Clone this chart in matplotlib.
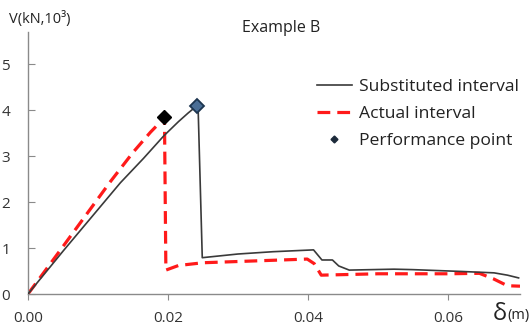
import matplotlib
matplotlib.use("Agg")
import matplotlib.pyplot as plt

# Substituted interval (solid dark line)
sub_x = [0.0, 0.0051, 0.0132, 0.0165, 0.0194, 0.0215, 0.0229, 0.0241, 0.0243,
         0.0249, 0.0300, 0.0350, 0.0408, 0.0420, 0.0435, 0.0444, 0.0459, 0.0523, 0.0550,
         0.0620, 0.0666, 0.0685, 0.0701]
sub_y = [0.0, 0.95, 2.42, 2.95, 3.44, 3.75, 3.94, 4.09, 4.09,
         0.79, 0.87, 0.92, 0.96, 0.74, 0.74, 0.61, 0.52, 0.54, 0.53,
         0.49, 0.46, 0.41, 0.35]

# Actual interval (red dashed)
act_x = [0.0, 0.0046, 0.0118, 0.0150, 0.0175, 0.0189, 0.0195, 0.0197, 0.0215, 0.0250,
         0.0399, 0.0409, 0.0419, 0.0500, 0.0600, 0.0645, 0.0665, 0.0685, 0.0703]
act_y = [0.0, 0.95, 2.45, 3.08, 3.52, 3.74, 3.84, 0.52, 0.62, 0.68,
         0.76, 0.66, 0.41, 0.44, 0.44, 0.45, 0.33, 0.18, 0.17]

# Performance points
perf_sub = (0.0241, 4.09)
perf_act = (0.0195, 3.84)

x_ticks = [0.0, 0.02, 0.04, 0.06]
x_tick_labels = ["0.00", "0.02", "0.04", "0.06"]
y_ticks = [0, 1, 2, 3, 4, 5]

plt.rcParams['font.family'] = ['Open Sans', 'DejaVu Sans']

fig = plt.figure(figsize=(5.31, 3.26), dpi=100)
ax = fig.add_axes([28/531, 32/326, (520-28)/531, (294-32)/326])

ax.plot(sub_x, sub_y, color='#3a3a3a', lw=1.2, label='Substituted interval', zorder=3)
ax.plot(act_x, act_y, color='#ff1a1a', lw=2.3, ls=(0, (4, 2.2)), label='Actual interval', zorder=2)
ax.plot([perf_act[0]], [perf_act[1]], marker='D', ms=7, color='black', ls='none', zorder=4)
ax.plot([perf_sub[0]], [perf_sub[1]], marker='D', ms=7, mfc='#4a6e96', mec='#1c3550', mew=1.3,
        ls='none', zorder=5)
ax.plot([], [], marker='D', ms=3.5, color='#1c2a3a', ls='none', label='Performance point')

ax.set_xlim(0, 0.0703)
ax.set_ylim(0, 5.7)
ax.set_xticks(x_ticks)
ax.set_xticklabels(x_tick_labels)
ax.set_yticks(y_ticks)

for s in ['top', 'right']:
    ax.spines[s].set_visible(False)
for s in ['left', 'bottom']:
    ax.spines[s].set_color('#8a8a8a')
    ax.spines[s].set_linewidth(1.0)

ax.tick_params(axis='x', direction='out', length=4, color='#8a8a8a', labelsize=11,
               labelcolor='#333333', pad=8)
ax.tick_params(axis='y', direction='in', length=5, color='#8a8a8a', labelsize=11,
               labelcolor='#333333', pad=13)

fig.text(281/531, 1 - 28/326, 'Example B', ha='center', va='center', fontsize=11.5, color='#222222')
fig.text(9/531, 1 - 19/326, 'V(kN,10³)', ha='left', va='center', fontsize=10.5, color='#222222')
fig.text(493/531, 1 - 314/326, 'δ', ha='left', va='center', fontsize=17, color='#222222')
fig.text(507/531, 1 - 316/326, '(m)', ha='left', va='center', fontsize=10.5, color='#222222')

leg = fig.legend(loc='center left', bbox_to_anchor=(308/531, 1 - 114/326), frameon=False,
                 fontsize=12.6, handlelength=2.0, handletextpad=0.4, labelspacing=0.62,
                 borderpad=0)
for t in leg.get_texts():
    t.set_color('#222222')

fig.savefig('out.png', dpi=100)
